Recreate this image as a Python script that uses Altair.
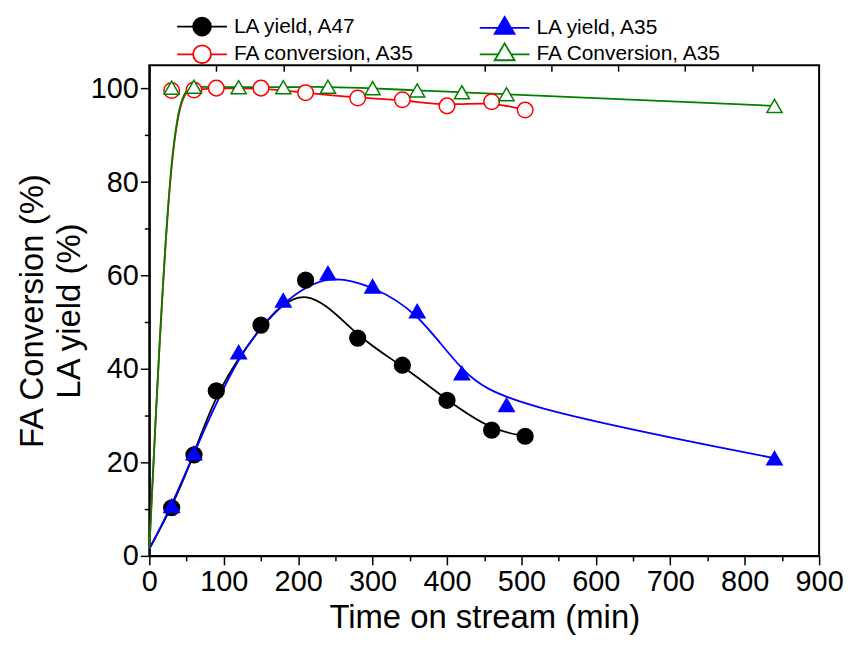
import altair as alt
import pandas as pd

# ---- data ----
t_a47 = [0, 30, 60, 90, 150, 210, 280, 340, 400, 460, 505]
la_a47 = [1.5, 10.3, 21.6, 35.3, 49.4, 59.0, 46.6, 40.8, 33.3, 26.9, 25.6]

t_a35 = [0, 30, 60, 120, 180, 240, 300, 360, 420, 480, 840]
la_a35 = [1.5, 10.7, 22.0, 43.6, 54.7, 60.5, 57.7, 52.4, 39.1, 32.3, 20.9]

t_fa_red = [0, 30, 60, 90, 150, 210, 280, 340, 400, 460, 505]
fa_red = [1.5, 99.6, 99.7, 100.1, 100.1, 99.1, 98.0, 97.6, 96.3, 97.2, 95.4]

t_fa_green = [0, 30, 60, 120, 180, 240, 300, 360, 420, 480, 840]
fa_green = [1.5, 100.2, 100.4, 100.3, 100.3, 100.4, 100.1, 99.6, 99.2, 98.8, 96.3]

# legend order (legend fills column by column)
series = ["LA yield, A47", "FA conversion, A35", "LA yield, A35", "FA Conversion, A35"]
colors = ["#000000", "#FF0000", "#0000FF", "#008000"]
fills = ["#000000", "#FFFFFF", "#0000FF", "#FFFFFF"]
shapes = ["circle", "circle", "triangle-up", "triangle-up"]
sizes = [250, 230, 400, 420]

rows = []
for k, (name, ts, vs) in enumerate([
    (series[0], t_a47, la_a47),
    (series[1], t_fa_red, fa_red),
    (series[2], t_a35, la_a35),
    (series[3], t_fa_green, fa_green),
]):
    for i, (t, v) in enumerate(zip(ts, vs)):
        rows.append({"series": name, "time": t, "value": v, "marker": 0 if i == 0 else 1,
                     "order": k})
df = pd.DataFrame(rows)

font = "Liberation Sans"

# legend symbol paths (line + marker), unit = sqrt(symbolSize)/2 px
P_FC = "M-2.5,0L2.5,0M-0.9,0A0.9,0.9,0,1,1,0.9,0A0.9,0.9,0,1,1,-0.9,0Z"
P_FT = "M-2.5,0L2.5,0M0,-1.1L1,0.6L-1,0.6Z"
P_OC = "M-2.5,0L-0.9,0M0.9,0L2.5,0M-0.9,0A0.9,0.9,0,1,1,0.9,0A0.9,0.9,0,1,1,-0.9,0Z"
P_OT = "M-2.5,0L-0.62,0M0.62,0L2.5,0M0,-1.1L1,0.6L-1,0.6Z"
legend_paths = [P_FC, P_OC, P_FT, P_OT]

xscale = alt.Scale(domain=[0, 900], nice=False, zero=False)
yscale = alt.Scale(domain=[0, 105], nice=False, zero=False)

x_axis = alt.Axis(
    values=list(range(0, 901, 50)),
    labelExpr="datum.value % 100 === 0 ? datum.label : ''",
    tickSize={"condition": {"test": "datum.value % 100 === 0", "value": 9}, "value": 5},
    labelFlush=False, labelOverlap=False, grid=False,
    labelFontSize=29, labelFont=font, labelColor="black", labelPadding=3,
    title="Time on stream (min)", titleFontSize=33, titleFont=font,
    titleFontWeight="normal", titleColor="black", titlePadding=5,
    domainColor="black", domainWidth=2, tickColor="black", tickWidth=1.5,
)
y_axis = alt.Axis(
    values=list(range(0, 101, 10)),
    labelExpr="datum.value % 20 === 0 ? datum.label : ''",
    tickSize={"condition": {"test": "datum.value % 20 === 0", "value": 9}, "value": 5},
    labelOverlap=False, grid=False,
    labelFontSize=29, labelFont=font, labelColor="black", labelPadding=2,
    title=["FA Conversion (%)", "LA yield (%)"], titleFontSize=33, titleFont=font,
    titleFontWeight="normal", titleColor="black", titlePadding=4, titleLineHeight=37,
    domainColor="black", domainWidth=2, tickColor="black", tickWidth=1.5,
)
top_axis = alt.Axis(
    orient="top", values=list(range(90, 900, 90)), labels=False, domain=False,
    grid=False, tickSize=6, offset=-6, tickColor="black", tickWidth=1.5, title=None,
)

lines = alt.Chart(df).mark_line(interpolate="basis", strokeWidth=1.8).encode(
    x=alt.X("time:Q", scale=xscale, axis=x_axis),
    y=alt.Y("value:Q", scale=yscale, axis=y_axis),
    color=alt.Color("series:N", scale=alt.Scale(domain=series, range=colors), legend=None),
    detail="series:N",
    order="time:Q",
)

points = alt.Chart(df).transform_filter("datum.marker == 1").mark_point(
    strokeWidth=1.5, opacity=1, fillOpacity=1
).encode(
    x=alt.X("time:Q", scale=xscale, axis=top_axis),
    y=alt.Y("value:Q", scale=yscale, axis=y_axis),
    stroke=alt.Stroke("series:N", scale=alt.Scale(domain=series, range=colors), legend=None),
    fill=alt.Fill("series:N", scale=alt.Scale(domain=series, range=fills), legend=None),
    shape=alt.Shape("series:N", scale=alt.Scale(domain=series, range=shapes), legend=None),
    size=alt.Size("series:N", scale=alt.Scale(domain=series, range=sizes), legend=None),
    order="order:Q",
)

def make_legend():
    return alt.Legend(
        title=None, orient="none", legendX=42, legendY=-50, columns=2,
        labelFont=font, labelFontSize=21, labelColor="black", labelOffset=21,
        labelLimit=400, columnPadding=60, rowPadding=0, symbolSize=400,
        symbolStrokeWidth=1.8, symbolOpacity=1,
    )

# legend-only layer: no rows survive the filter, entries come from the scale domains
legend_layer = alt.Chart(df).transform_filter("datum.marker == 5").mark_point(
    strokeWidth=1.8, opacity=1, fillOpacity=1
).encode(
    stroke=alt.Stroke("series:N", scale=alt.Scale(domain=series, range=colors), legend=make_legend()),
    fill=alt.Fill("series:N", scale=alt.Scale(domain=series, range=fills), legend=make_legend()),
    shape=alt.Shape("series:N", scale=alt.Scale(domain=series, range=legend_paths), legend=make_legend()),
)

chart = alt.layer(lines, points, legend_layer).resolve_axis(x="independent").resolve_scale(
    shape="independent", stroke="independent", fill="independent"
).properties(
    width=673, height=493,
    padding={"left": 8, "top": 6, "right": 0, "bottom": 0},
    background="white",
).configure(font=font).configure_view(stroke="black", strokeWidth=2)

chart.save("out.html", embed_options={"renderer": "svg", "actions": False})
